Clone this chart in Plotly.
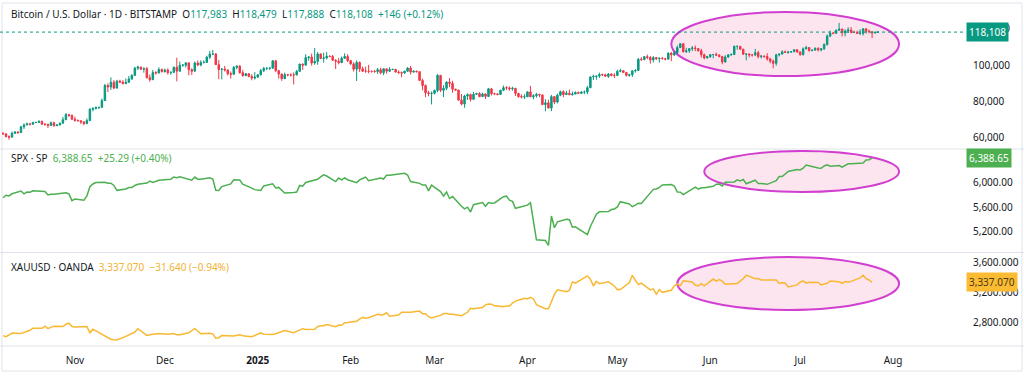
import pandas as pd
import plotly.graph_objects as go

# ---------------- DATA ----------------
# Bitcoin / U.S. Dollar, daily (BITSTAMP), values in thousands USD, 2024-10-08 .. 2025-07-27
btc_first_open = 62.2
btc_close = [
    # Oct 8-31
    62.1, 60.6, 60.3, 62.4, 63.2, 62.8, 66.0, 67.0, 67.6, 67.4, 68.4, 68.4, 69.0, 67.4, 67.4, 66.7, 68.2, 66.6, 67.0, 68.0, 69.9, 72.7, 72.3, 70.2,
    # Nov
    69.5, 69.3, 68.7, 67.8, 69.4, 75.6, 76.0, 76.6, 76.7, 80.4, 88.7, 87.9, 90.5, 87.3, 91.1, 90.6, 89.8, 90.5, 92.3, 94.3, 98.3, 98.9, 97.7, 98.0, 93.0, 91.9, 95.9, 95.6, 97.5, 96.4,
    # Dec
    97.2, 95.8, 96.0, 98.8, 96.6, 99.9, 99.9, 101.2, 97.4, 96.6, 101.1, 100.0, 101.4, 101.4, 104.3, 106.0, 106.1, 100.2, 97.5, 97.8, 97.3, 95.2, 94.9, 98.7, 99.4, 95.8, 94.2, 95.2, 93.7, 92.8, 93.4,
    # Jan
    94.6, 96.9, 98.1, 98.2, 98.3, 102.3, 96.9, 95.0, 92.5, 94.7, 94.5, 94.5, 94.5, 96.5, 100.5, 99.9, 104.1, 104.4, 101.1, 102.0, 106.1, 103.6, 103.9, 104.8, 104.7, 102.6, 102.1, 101.3, 103.7, 104.7, 102.4,
    # Feb
    100.6, 97.7, 101.4, 97.9, 96.6, 96.6, 96.5, 96.5, 96.4, 97.4, 95.7, 97.9, 96.6, 97.5, 97.6, 96.1, 95.8, 95.6, 96.6, 98.3, 96.1, 96.6, 96.3, 91.5, 88.7, 84.7, 84.3, 84.4,
    # Mar
    86.0, 94.3, 86.1, 87.2, 90.6, 89.9, 86.7, 86.2, 80.7, 78.5, 82.9, 83.7, 81.1, 83.9, 84.3, 82.6, 84.1, 82.7, 86.9, 84.2, 84.1, 83.8, 86.1, 87.5, 87.4, 86.9, 87.2, 84.4, 82.6, 82.4, 82.5,
    # Apr
    85.2, 82.5, 83.1, 83.8, 83.5, 78.2, 79.2, 76.3, 82.6, 79.6, 83.4, 85.3, 83.7, 84.5, 83.6, 84.0, 84.9, 84.4, 85.1, 85.1, 87.5, 93.4, 93.7, 93.9, 94.7, 94.6, 93.8, 95.0, 94.3, 94.2,
    # May
    96.5, 96.9, 95.9, 94.3, 94.7, 96.8, 97.0, 103.2, 102.9, 104.6, 104.1, 102.8, 104.1, 103.5, 103.7, 103.5, 103.2, 106.5, 105.6, 106.8, 109.6, 111.7, 107.3, 107.8, 109.0, 109.4, 109.0, 107.8, 105.6, 103.9, 104.6,
    # Jun
    105.7, 105.8, 105.4, 104.7, 101.6, 104.4, 105.6, 105.8, 110.3, 110.3, 108.7, 105.9, 106.1, 105.5, 105.5, 106.8, 104.6, 104.9, 104.7, 103.3, 102.1, 100.9, 105.6, 106.0, 107.3, 106.9, 107.1, 107.3, 108.4, 107.1,
    # Jul 1-27
    105.7, 108.9, 109.6, 108.0, 108.2, 109.2, 108.3, 108.9, 111.3, 115.9, 117.5, 117.4, 119.1, 119.8, 117.7, 118.7, 119.3, 117.9, 117.9, 117.3, 117.4, 119.9, 118.6, 118.3, 117.6, 117.983, 118.108,
]
btc_high = [
    63.2, 62.5, 61.3, 63.4, 63.5, 63.4, 66.5, 67.9, 68.4, 68.1, 68.7, 68.7, 69.5, 69.4, 67.8, 67.5, 68.9, 68.8, 67.4, 68.3, 71.4, 73.6, 72.9, 72.7,
    71.6, 70.0, 69.5, 69.0, 70.6, 76.4, 76.8, 77.2, 76.9, 81.5, 89.6, 89.9, 93.2, 91.7, 91.8, 91.9, 91.6, 92.6, 94.0, 94.9, 99.0, 99.6, 98.8, 98.7, 98.9, 94.8, 97.3, 96.6, 98.7, 98.1,
    98.0, 98.2, 96.4, 99.0, 104.0, 101.9, 100.5, 101.4, 101.3, 98.2, 101.9, 102.5, 102.6, 102.6, 105.1, 107.8, 108.3, 106.5, 102.8, 98.0, 99.5, 97.4, 96.4, 99.4, 99.9, 99.9, 97.3, 95.6, 95.3, 94.9, 96.1,
    95.0, 97.8, 98.9, 98.7, 98.8, 102.7, 102.7, 97.3, 95.3, 95.8, 94.9, 95.4, 95.9, 97.3, 100.7, 100.8, 105.9, 104.9, 106.3, 109.4, 107.1, 106.3, 106.8, 107.1, 105.3, 105.5, 103.2, 103.8, 104.7, 106.4, 106.0,
    102.8, 101.5, 102.5, 102.0, 99.1, 99.1, 100.1, 96.9, 97.3, 98.3, 98.5, 98.1, 98.0, 98.8, 97.9, 97.7, 97.0, 96.4, 96.9, 98.8, 99.5, 96.9, 96.9, 96.5, 92.5, 89.3, 85.8, 85.4,
    86.5, 95.0, 94.4, 88.9, 91.0, 92.8, 91.3, 86.9, 86.4, 84.0, 83.6, 84.4, 84.3, 85.1, 84.7, 85.0, 84.8, 84.2, 87.4, 87.4, 84.8, 84.5, 86.3, 88.7, 88.4, 88.2, 88.0, 87.3, 84.6, 83.8, 83.9,
    85.5, 88.5, 83.9, 84.7, 84.2, 83.8, 81.2, 80.9, 83.5, 82.7, 84.2, 85.9, 86.1, 85.8, 86.4, 85.4, 85.5, 85.4, 85.6, 86.0, 88.5, 93.8, 94.7, 94.0, 95.8, 95.3, 95.2, 95.6, 95.4, 95.5,
    97.4, 97.9, 96.9, 96.0, 95.2, 96.9, 97.7, 103.8, 104.3, 104.9, 105.7, 105.0, 104.9, 104.4, 104.2, 104.5, 103.6, 107.0, 107.1, 107.7, 110.8, 112.0, 111.9, 109.5, 109.3, 110.4, 110.7, 109.3, 108.9, 106.3, 105.0,
    105.9, 105.9, 106.8, 105.9, 105.0, 105.4, 105.9, 106.4, 110.6, 110.4, 110.4, 108.9, 106.3, 106.2, 106.0, 108.9, 107.8, 105.5, 105.2, 106.5, 104.0, 103.0, 106.1, 106.3, 108.1, 108.0, 107.8, 107.6, 108.5, 108.8,
    107.6, 109.7, 110.6, 109.7, 108.5, 109.7, 109.7, 109.2, 111.9, 116.8, 118.9, 118.2, 119.5, 123.2, 120.0, 119.6, 120.8, 120.9, 118.9, 118.9, 119.7, 120.3, 120.1, 119.5, 118.5, 118.4, 118.479,
]
btc_low = [
    61.9, 60.2, 58.9, 60.2, 62.1, 62.1, 62.7, 64.8, 66.9, 66.7, 67.2, 68.0, 68.1, 67.1, 66.6, 65.3, 66.5, 66.0, 66.5, 66.8, 67.7, 69.7, 71.4, 69.8,
    68.8, 69.0, 67.5, 66.8, 67.4, 69.3, 74.5, 75.6, 75.7, 76.5, 80.2, 85.1, 86.3, 86.7, 87.1, 90.1, 89.3, 89.4, 90.1, 91.9, 94.0, 97.2, 97.2, 95.8, 92.6, 90.8, 91.8, 94.7, 95.4, 95.8,
    95.8, 94.7, 94.6, 95.5, 91.0, 96.5, 99.1, 98.7, 94.3, 94.5, 96.5, 99.3, 99.3, 100.8, 101.3, 103.3, 105.4, 100.0, 92.2, 92.1, 96.4, 94.3, 92.5, 94.5, 97.6, 95.2, 93.5, 93.8, 93.3, 91.6, 92.0,
    92.8, 94.2, 96.2, 97.2, 97.3, 97.9, 96.1, 92.5, 91.3, 92.2, 93.8, 93.7, 89.3, 94.4, 96.5, 97.3, 99.9, 102.4, 99.6, 100.1, 100.1, 103.2, 101.3, 103.0, 104.3, 102.4, 97.8, 100.3, 101.2, 103.3, 101.6,
    100.1, 96.4, 91.2, 96.2, 96.2, 95.7, 95.4, 95.8, 95.7, 95.1, 94.9, 94.4, 95.2, 96.1, 97.2, 95.9, 95.2, 93.3, 95.1, 96.1, 94.8, 95.8, 95.9, 91.3, 86.1, 82.3, 82.8, 78.3,
    83.8, 85.0, 85.1, 82.3, 86.2, 87.8, 84.7, 85.9, 80.3, 77.8, 76.5, 80.8, 79.9, 80.9, 83.6, 82.3, 82.5, 81.3, 82.6, 83.3, 83.7, 83.3, 83.8, 85.6, 86.3, 85.9, 85.9, 83.0, 82.0, 81.6, 81.3,
    82.4, 82.3, 81.2, 82.0, 82.3, 77.9, 74.5, 76.2, 74.6, 78.5, 78.9, 82.8, 82.3, 83.6, 83.6, 83.2, 83.9, 84.2, 84.0, 84.0, 83.9, 87.3, 91.7, 91.9, 92.9, 93.9, 93.7, 92.9, 93.7, 92.9,
    94.1, 96.0, 95.6, 93.6, 93.6, 93.4, 95.8, 96.9, 102.4, 102.8, 103.2, 100.8, 101.4, 102.7, 101.4, 103.1, 102.6, 103.2, 102.1, 104.9, 105.9, 109.3, 106.9, 106.7, 106.7, 107.6, 107.6, 107.5, 104.1, 103.1, 103.6,
    103.9, 103.7, 105.0, 104.2, 100.4, 101.5, 103.9, 105.1, 105.4, 108.4, 108.4, 105.7, 102.6, 104.2, 104.6, 104.9, 103.6, 103.6, 103.9, 102.4, 101.0, 98.2, 99.6, 104.7, 105.9, 106.7, 106.2, 106.8, 107.1, 106.8,
    105.1, 105.2, 108.6, 107.3, 107.5, 107.8, 107.5, 107.5, 108.3, 110.6, 115.3, 116.9, 117.3, 118.9, 115.7, 115.8, 117.6, 117.4, 117.7, 117.4, 116.5, 116.2, 117.3, 117.5, 114.8, 117.4, 117.888,
]

# S&P 500 daily closes, 2024-10-08 .. 2025-07-25 (trading days)
spx_close = [
    5751, 5792, 5780, 5815, 5859, 5815, 5842, 5841, 5864, 5853, 5851, 5797, 5809, 5808, 5823, 5832, 5813, 5705,
    5729, 5712, 5782, 5929, 5973, 5995, 6001, 5984, 5985, 5949, 5871, 5893, 5917, 5917, 5949, 5969, 5987, 6021, 5999, 6032,
    6047, 6050, 6086, 6075, 6090, 6053, 6034, 6084, 6051, 6051, 6074, 6051, 5872, 5867, 5931, 5974, 6040, 6037, 5971, 5907, 5882,
    5869, 5942, 5975, 5909, 5918, 5827, 5837, 5843, 5950, 5937, 5997, 6049, 6086, 6119, 6101, 6012, 6068, 6039, 6071, 6041,
    5995, 6038, 6061, 6084, 6026, 6066, 6069, 6052, 6115, 6115, 6129, 6144, 6118, 6013, 5983, 5955, 5956, 5861, 5955,
    5850, 5778, 5843, 5739, 5770, 5615, 5572, 5599, 5522, 5639, 5675, 5615, 5675, 5663, 5668, 5768, 5777, 5712, 5693, 5581, 5612,
    5633, 5671, 5397, 5074, 5062, 4983, 5457, 5268, 5363, 5406, 5397, 5276, 5283, 5158, 5288, 5376, 5485, 5525, 5529, 5561, 5569,
    5604, 5687, 5650, 5607, 5631, 5664, 5660, 5844, 5886, 5892, 5917, 5958, 5964, 5941, 5845, 5842, 5803, 5922, 5889, 5912, 5912,
    5936, 5970, 5971, 5939, 6000, 6006, 6039, 6022, 6045, 5977, 6033, 5982, 5981, 5967, 6025, 6092, 6092, 6141, 6173, 6205,
    6198, 6227, 6279, 6230, 6226, 6263, 6280, 6260, 6269, 6244, 6264, 6297, 6297, 6306, 6309, 6359, 6363, 6388.65,
]
spx_holidays = ["2024-11-28", "2024-12-25", "2025-01-01", "2025-01-09", "2025-01-20",
                "2025-02-17", "2025-04-18", "2025-05-26", "2025-06-19", "2025-07-04"]

# Gold spot (XAUUSD, OANDA) daily closes, 2024-10-08 .. 2025-07-25
gold_close = [
    2622, 2608, 2630, 2656, 2649, 2662, 2674, 2693, 2721, 2720, 2748, 2715, 2736, 2747, 2743, 2774, 2788, 2744,
    2736, 2736, 2743, 2659, 2707, 2685, 2619, 2598, 2573, 2565, 2563, 2612, 2631, 2651, 2670, 2715, 2625, 2633, 2638, 2641, 2650,
    2640, 2643, 2650, 2632, 2633, 2660, 2694, 2718, 2680, 2648, 2652, 2646, 2586, 2594, 2622, 2612, 2618, 2633, 2621, 2606, 2624,
    2658, 2640, 2636, 2648, 2661, 2670, 2689, 2662, 2677, 2697, 2715, 2703, 2708, 2745, 2755, 2754, 2770, 2740, 2763, 2760, 2794, 2798,
    2815, 2842, 2866, 2856, 2861, 2908, 2898, 2904, 2928, 2883, 2898, 2935, 2933, 2939, 2936, 2951, 2915, 2916, 2876, 2858,
    2893, 2918, 2920, 2910, 2910, 2889, 2917, 2935, 2989, 2984, 3000, 3034, 3047, 3044, 3022, 3011, 3020, 3019, 3058, 3085, 3123,
    3113, 3134, 3114, 3037, 2982, 2983, 3082, 3175, 3237, 3211, 3229, 3343, 3327, 3424, 3380, 3288, 3349, 3319, 3343, 3317, 3288,
    3239, 3241, 3333, 3431, 3365, 3306, 3325, 3236, 3249, 3178, 3240, 3203, 3231, 3291, 3314, 3294, 3358, 3342, 3301, 3288, 3318, 3289,
    3381, 3353, 3373, 3352, 3310, 3326, 3322, 3354, 3386, 3433, 3385, 3388, 3369, 3369, 3368, 3368, 3323, 3332, 3328, 3274, 3303,
    3338, 3357, 3326, 3337, 3336, 3302, 3313, 3324, 3355, 3344, 3324, 3347, 3338, 3350, 3397, 3432, 3387, 3368, 3337.07,
]
gold_holidays = ["2024-12-25", "2025-01-01", "2025-04-18"]

month_ticks = ["2024-11-01", "2024-12-01", "2025-01-01", "2025-02-01", "2025-03-01", "2025-04-01",
               "2025-05-01", "2025-06-01", "2025-07-01", "2025-08-01"]
month_labels = ["Nov", "Dec", "<b>2025</b>", "Feb", "Mar", "Apr", "May", "Jun", "Jul", "Aug"]

btc_ticks = [60000, 80000, 100000, 120000]
spx_ticks = [5200, 5600, 6000]
gold_ticks = [2800, 3200, 3600]

# ---------------- BUILD ----------------
btc_dates = pd.date_range("2024-10-08", "2025-07-27", freq="D")
spx_dates = [d for d in pd.bdate_range("2024-10-08", "2025-07-25") if d.strftime("%Y-%m-%d") not in spx_holidays]
gold_dates = [d for d in pd.bdate_range("2024-10-08", "2025-07-25") if d.strftime("%Y-%m-%d") not in gold_holidays]
assert len(btc_dates) == len(btc_close) == len(btc_high) == len(btc_low)
assert len(spx_dates) == len(spx_close)
assert len(gold_dates) == len(gold_close)

btc_open = [btc_first_open] + btc_close[:-1]
k = 1000
UP, DOWN = "#089981", "#f23645"
SPX_C, GOLD_C = "#4caf50", "#f9b831"
FONT = "Noto Sans"
TXT = "#131722"

fig = go.Figure()
fig.add_trace(go.Candlestick(
    x=btc_dates, open=[v * k for v in btc_open], high=[v * k for v in btc_high],
    low=[v * k for v in btc_low], close=[v * k for v in btc_close],
    increasing=dict(line=dict(color=UP, width=1), fillcolor=UP),
    decreasing=dict(line=dict(color=DOWN, width=1), fillcolor=DOWN),
    xaxis="x", yaxis="y", showlegend=False, hoverinfo="skip"))
fig.add_trace(go.Scatter(x=spx_dates, y=spx_close, mode="lines", line=dict(color=SPX_C, width=1.5),
                         xaxis="x2", yaxis="y2", showlegend=False, hoverinfo="skip"))
fig.add_trace(go.Scatter(x=gold_dates, y=gold_close, mode="lines", line=dict(color=GOLD_C, width=1.5),
                         xaxis="x3", yaxis="y3", showlegend=False, hoverinfo="skip"))

W, H = 1024, 376
x_right = 965 / W
xrange = ["2024-10-07", "2025-08-25"]
common_x = dict(range=xrange, type="date", showgrid=False, zeroline=False, showline=False,
                domain=[0, x_right], rangeslider=dict(visible=False))
tickfont = dict(family=FONT, size=10, color=TXT)

def ydom(top_px, bot_px):
    return [(H - bot_px) / H, (H - top_px) / H]

fig.update_layout(
    width=W, height=H, margin=dict(l=0, r=0, t=0, b=0, autoexpand=False),
    paper_bgcolor="white", plot_bgcolor="white",
    font=dict(family=FONT, size=10, color=TXT),
    xaxis=dict(**common_x, anchor="y", showticklabels=False),
    xaxis2=dict(**common_x, anchor="y2", matches="x", showticklabels=False),
    xaxis3=dict(**common_x, anchor="y3", matches="x", showticklabels=True,
                tickvals=month_ticks, ticktext=month_labels, ticks="", tickfont=tickfont,
                ticklabelstandoff=8),
    yaxis=dict(domain=ydom(3, 148), range=[54333, 134112], side="right", anchor="x",
               tickvals=btc_ticks, tickformat=",d", showgrid=False, zeroline=False,
               ticks="", tickfont=tickfont, ticklabelstandoff=7),
    yaxis2=dict(domain=ydom(150, 251), range=[4894, 6520], side="right", anchor="x2",
                tickvals=spx_ticks, tickformat=",.2f", showgrid=False, zeroline=False,
                ticks="", tickfont=tickfont, ticklabelstandoff=7),
    yaxis3=dict(domain=ydom(254, 345), range=[2496, 3717], side="right", anchor="x3",
                tickvals=gold_ticks, tickformat=",.3f", showgrid=False, zeroline=False,
                ticks="", tickfont=tickfont, ticklabelstandoff=7),
)

SEP = "#e0e3eb"
shapes = [
    dict(type="rect", xref="paper", yref="paper", x0=0.002, x1=0.998, y0=(H - 371) / H, y1=(H - 3) / H,
         line=dict(color=SEP, width=1), layer="below"),
    dict(type="line", xref="paper", yref="paper", x0=0, x1=1, y0=(H - 149) / H, y1=(H - 149) / H,
         line=dict(color=SEP, width=1)),
    dict(type="line", xref="paper", yref="paper", x0=0, x1=1, y0=(H - 252.5) / H, y1=(H - 252.5) / H,
         line=dict(color=SEP, width=1)),
    dict(type="line", xref="paper", yref="paper", x0=0, x1=1, y0=(H - 346) / H, y1=(H - 346) / H,
         line=dict(color=SEP, width=1)),
    dict(type="line", xref="paper", yref="y", x0=0, x1=x_right, y0=btc_close[-1] * k, y1=btc_close[-1] * k,
         line=dict(color=UP, width=1, dash="dot")),
    dict(type="circle", xref="x", yref="y", x0="2025-05-19", x1="2025-08-03", y0=93900, y1=129200,
         line=dict(color="#d23fd0", width=2), fillcolor="rgba(248,190,215,0.40)", layer="below"),
    dict(type="circle", xref="x2", yref="y2", x0="2025-05-30", x1="2025-08-03", y0=5844, y1=6504,
         line=dict(color="#d23fd0", width=2), fillcolor="rgba(248,190,215,0.40)", layer="below"),
    dict(type="circle", xref="x3", yref="y3", x0="2025-05-21", x1="2025-08-03", y0=2965, y1=3676,
         line=dict(color="#d23fd0", width=2), fillcolor="rgba(248,190,215,0.40)", layer="below"),
]
fig.update_layout(shapes=shapes)

def c(txt, col):
    return f"<span style='color:{col}'>{txt}</span>"

GOLD_T = "#f2b233"
annotations = [
    dict(xref="paper", yref="paper", x=9 / W, y=(H - 14) / H, xanchor="left", yanchor="middle", showarrow=False,
         font=dict(family=FONT, size=10, color=TXT),
         text="Bitcoin / U.S. Dollar · 1D · BITSTAMP  O" + c("117,983", UP) + "  H" + c("118,479", UP)
              + "  L" + c("117,888", UP) + "  C" + c("118,108", UP) + "  " + c("+146 (+0.12%)", UP)),
    dict(xref="paper", yref="paper", x=9 / W, y=(H - 158) / H, xanchor="left", yanchor="middle", showarrow=False,
         font=dict(family=FONT, size=10, color=TXT),
         text="SPX · SP  " + c("6,388.65", SPX_C) + "  " + c("+25.29 (+0.40%)", SPX_C)),
    dict(xref="paper", yref="paper", x=9 / W, y=(H - 267) / H, xanchor="left", yanchor="middle", showarrow=False,
         font=dict(family=FONT, size=10, color=TXT),
         text="XAUUSD · OANDA  " + c("3,337.070", GOLD_T) + "  " + c("−31.640 (−0.94%)", GOLD_T)),
    dict(xref="paper", yref="y", x=966 / W, y=btc_close[-1] * k, xanchor="left", yanchor="middle",
         showarrow=False, text="118,108", bgcolor=UP, borderpad=2,
         font=dict(family=FONT, size=10, color="white")),
    dict(xref="paper", yref="y2", x=966 / W, y=spx_close[-1], xanchor="left", yanchor="middle",
         showarrow=False, text="6,388.65", bgcolor=SPX_C, borderpad=2,
         font=dict(family=FONT, size=10, color="white")),
    dict(xref="paper", yref="y3", x=966 / W, y=gold_close[-1], xanchor="left", yanchor="middle",
         showarrow=False, text="3,337.070", bgcolor="#fbbc34", borderpad=2,
         font=dict(family=FONT, size=10, color="#4a3a10")),
]
fig.update_layout(annotations=annotations)

fig.write_html("out.html", config={"displayModeBar": False},
               post_script="document.body.style.margin='0';document.body.style.overflow='hidden';")
